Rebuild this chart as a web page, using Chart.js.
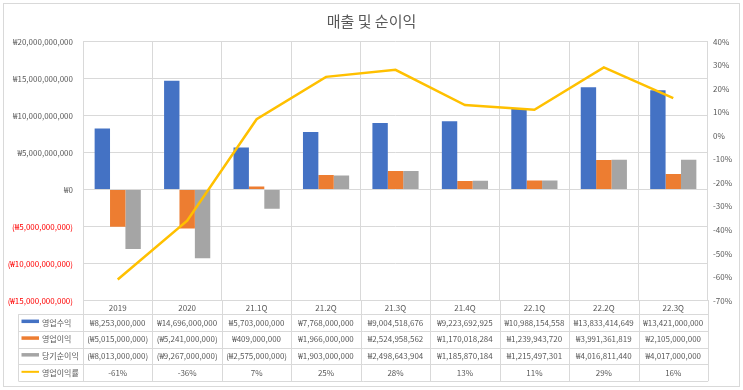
<!DOCTYPE html>
<html>
<head>
<meta charset="utf-8">
<script src="https://cdn.jsdelivr.net/npm/chart.js@4.4.0/dist/chart.umd.min.js"></script>
<style>
  body { margin: 0; background: #fff; }
  #wrap { width: 743px; height: 390px; }
</style>
</head>
<body>
<div id="wrap"><canvas id="chart" width="743" height="390"></canvas></div>
<script>
// 데이터
const categories = ["2019", "2020", "21.1Q", "21.2Q", "21.3Q", "21.4Q", "22.1Q", "22.2Q", "22.3Q"];
const revenue = [8253000000, 14696000000, 5703000000, 7768000000, 9004518676, 9223692925, 10988154558, 13833414649, 13421000000];
const operatingProfit = [-5015000000, -5241000000, 409000000, 1966000000, 2524958562, 1170018284, 1239943720, 3991361819, 2105000000];
const netIncome = [-8013000000, -9267000000, -2575000000, 1903000000, 2498643904, 1185870184, 1215497301, 4016811440, 4017000000];
const operatingMargin = [-61, -36, 7, 25, 28, 13, 11, 29, 16];
const seriesNames = ["영업수익", "영업이익", "당기순이익", "영업이익률"];

const FONT = "'Noto Sans CJK KR', 'Noto Sans', sans-serif";
const GRID = "#d9d9d9";
const TEXT = "#595959";
const colors = ["#4472C4", "#ED7D31", "#A5A5A5", "#FFC000"];

function won(v) {
  const s = "₩" + Math.abs(v).toLocaleString("en-US");
  return v < 0 ? "(" + s + ")" : s;
}

// 표 그리기 (데이터 테이블)
const dataTable = {
  id: "dataTable",
  beforeDraw(chart) {
    const ctx = chart.ctx;
    ctx.save();
    ctx.fillStyle = "#fff";
    ctx.fillRect(0, 0, chart.width, chart.height);
    ctx.strokeStyle = GRID;
    ctx.lineWidth = 1;
    ctx.strokeRect(3.5, 3.5, chart.width - 7, chart.height - 7);
    ctx.restore();
  },
  afterDraw(chart) {
    const ctx = chart.ctx;
    const area = chart.chartArea;
    const x = chart.scales.x;
    const n = categories.length;
    const colW = (area.right - area.left) / n;
    const headerBottom = area.bottom + 13.5;
    const rowH = 16.75;
    const legendLeft = 18.5;
    const tableBottom = headerBottom + rowH * 4;
    const rows = [
      revenue.map(won),
      operatingProfit.map(won),
      netIncome.map(won),
      operatingMargin.map(v => v + "%")
    ];

    ctx.save();
    ctx.strokeStyle = GRID;
    ctx.lineWidth = 1;
    ctx.beginPath();
    // 세로선
    for (let i = 0; i <= n; i++) {
      const px = Math.round(area.left + i * colW) + 0.5;
      ctx.moveTo(px, area.bottom);
      ctx.lineTo(px, tableBottom);
    }
    ctx.moveTo(legendLeft, headerBottom);
    ctx.lineTo(legendLeft, tableBottom);
    // 가로선
    for (let r = 0; r <= 4; r++) {
      const py = Math.round(headerBottom + r * rowH) + 0.5;
      ctx.moveTo(legendLeft, py);
      ctx.lineTo(area.right, py);
    }
    ctx.stroke();

    ctx.font = "8px " + FONT;
    ctx.textBaseline = "middle";
    rows.forEach((row, r) => {
      const cy = headerBottom + r * rowH + rowH / 2;
      // 범례 표시
      if (r < 3) {
        ctx.fillStyle = colors[r];
        ctx.fillRect(21.5, cy - 3, 17.5, 3.5);
      } else {
        ctx.strokeStyle = colors[r];
        ctx.lineWidth = 2;
        ctx.beginPath();
        ctx.moveTo(21.5, cy - 1);
        ctx.lineTo(39, cy - 1);
        ctx.stroke();
      }
      ctx.fillStyle = TEXT;
      ctx.textAlign = "left";
      ctx.fillText(seriesNames[r], 42, cy);
      ctx.textAlign = "center";
      row.forEach((txt, i) => {
        ctx.fillText(txt, x.getPixelForValue(i), cy);
      });
    });
    ctx.restore();
  }
};

new Chart(document.getElementById("chart"), {
  data: {
    labels: categories,
    datasets: [
      { type: "line", label: seriesNames[3], data: operatingMargin, yAxisID: "y1", order: 0,
        borderColor: colors[3], borderWidth: 2.5, pointRadius: 0, tension: 0 },
      { type: "bar", label: seriesNames[0], data: revenue, backgroundColor: colors[0], yAxisID: "y", order: 1 },
      { type: "bar", label: seriesNames[1], data: operatingProfit, backgroundColor: colors[1], yAxisID: "y", order: 1 },
      { type: "bar", label: seriesNames[2], data: netIncome, backgroundColor: colors[2], yAxisID: "y", order: 1 }
    ]
  },
  options: {
    responsive: false,
    animation: false,
    layout: { padding: 0 },
    datasets: { bar: { categoryPercentage: 0.665, barPercentage: 1 } },
    plugins: {
      legend: { display: false },
      tooltip: { enabled: false },
      title: {
        display: true,
        text: "매출 및 순이익",
        color: TEXT,
        font: { family: FONT, size: 15, weight: "normal" },
        padding: { top: 12, bottom: 11.5 }
      }
    },
    scales: {
      x: {
        grid: { color: GRID, offset: true, drawTicks: false },
        border: { color: GRID },
        ticks: { color: TEXT, font: { family: FONT, size: 8 }, padding: 2, maxRotation: 0 },
        afterFit(scale) { scale.height = 89.3; }
      },
      y: {
        position: "left",
        min: -15000000000,
        max: 20000000000,
        ticks: {
          stepSize: 5000000000,
          padding: 10,
          font: { family: FONT, size: 8 },
          color: ctx => (ctx.tick && ctx.tick.value < 0 ? "#FF0000" : TEXT),
          callback: v => won(v)
        },
        grid: { color: GRID, drawTicks: false },
        border: { display: false },
        afterFit(scale) { scale.width = 83; }
      },
      y1: {
        position: "right",
        min: -70,
        max: 40,
        ticks: {
          stepSize: 10,
          padding: 5,
          font: { family: FONT, size: 8 },
          color: TEXT,
          callback: v => v + "%"
        },
        grid: { display: false, drawTicks: false },
        border: { display: false },
        afterFit(scale) { scale.width = 35; }
      }
    }
  },
  plugins: [dataTable]
});
</script>
</body>
</html>
